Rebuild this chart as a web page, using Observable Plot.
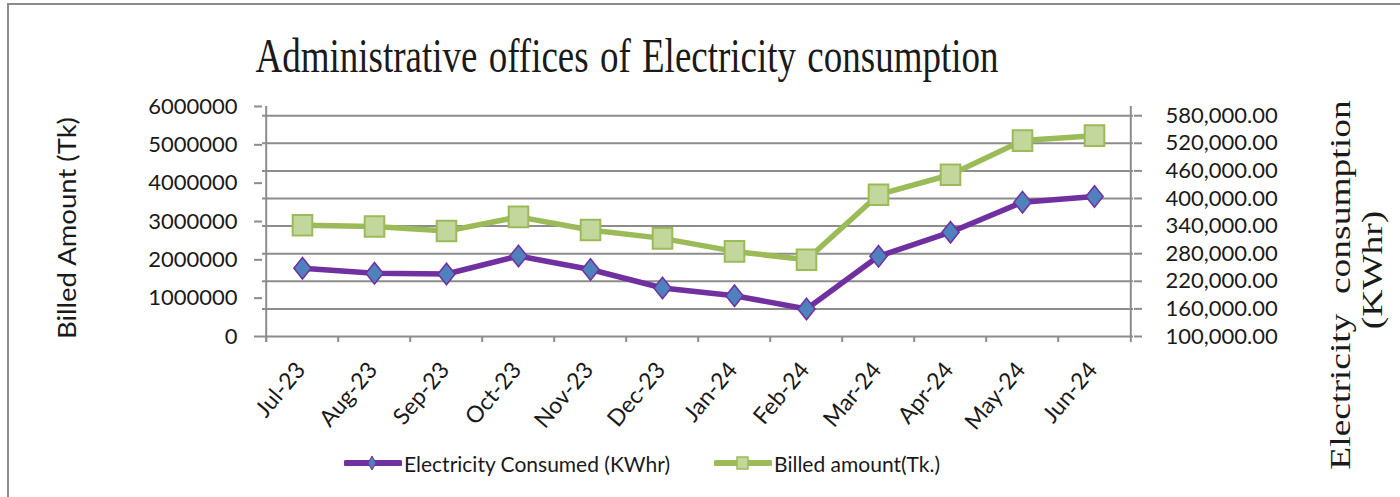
<!DOCTYPE html>
<html>
<head>
<meta charset="utf-8">
<script src="https://cdn.jsdelivr.net/npm/d3@7"></script>
<script src="https://cdn.jsdelivr.net/npm/@observablehq/plot@0.6"></script>
<style>
  html, body { margin: 0; padding: 0; background: #fff; }
  #wrap { position: relative; width: 1400px; height: 497px; overflow: hidden; background: #fff; }
  #frame { position: absolute; left: 7px; top: 3px; width: 1500px; height: 600px; border: 2px solid #8c8c8c; box-sizing: border-box; }
  #chart { position: absolute; left: 0; top: 0; }
  .t { position: absolute; white-space: pre; color: #1a1a1a; line-height: 1; }
  #title { font-family: "Liberation Serif", serif; font-size: 37px; word-spacing: 2px; left: 627px; top: 56px; transform: translate(-50%, -50%) scaleY(1.3); }
  #ylab { font-family: Lato, sans-serif; font-size: 25px; left: 66px; top: 228px; transform: translate(-50%, -50%) rotate(-90deg) scaleX(1.1); }
  #y2lab1 { font-family: "Liberation Serif", serif; font-size: 30px; word-spacing: 8px; left: 1340px; top: 285px; transform: translate(-50%, -50%) rotate(-90deg) scaleX(1.25); }
  #y2lab2 { font-family: "Liberation Serif", serif; font-size: 30px; left: 1372px; top: 270px; transform: translate(-50%, -50%) rotate(-90deg) scaleX(1.25); }
  #legend { position: absolute; left: 344px; top: 450px; height: 26px; display: flex; align-items: center; font-family: Lato, sans-serif; font-size: 21px; color: #1a1a1a; }
  #legend svg { display: block; }
  .lg-item { display: flex; align-items: center; }
</style>
</head>
<body>
<div id="wrap">
  <div id="frame"></div>
  <div id="chart"></div>
  <div class="t" id="title">Administrative offices of Electricity consumption</div>
  <div class="t" id="ylab">Billed Amount (Tk)</div>
  <div class="t" id="y2lab1">Electricity consumption</div>
  <div class="t" id="y2lab2">(KWhr)</div>
  <div id="legend">
    <div class="lg-item">
      <svg width="58" height="20"><line x1="2" y1="10" x2="56" y2="10" stroke="#7030A0" stroke-width="6" stroke-linecap="round"/><path d="M28,3 L32,10 L28,17 L24,10 Z" fill="#4F81BD" stroke="#7030A0" stroke-width="1"/></svg>
      <span style="margin-left:2px">Electricity Consumed (KWhr)</span>
    </div>
    <div class="lg-item" style="margin-left:44px">
      <svg width="58" height="20"><line x1="2" y1="10" x2="56" y2="10" stroke="#9BBB59" stroke-width="6" stroke-linecap="round"/><rect x="23" y="4" width="11" height="12" fill="#C3D69B" stroke="#9BBB59" stroke-width="1.5"/></svg>
      <span style="margin-left:2px">Billed amount(Tk.)</span>
    </div>
  </div>
</div>
<script>
// ---- data ----
const months = ["Jul-23", "Aug-23", "Sep-23", "Oct-23", "Nov-23", "Dec-23", "Jan-24", "Feb-24", "Mar-24", "Apr-24", "May-24", "Jun-24"];
const billedAmount = [2900000, 2870000, 2750000, 3120000, 2780000, 2560000, 2220000, 2000000, 3700000, 4220000, 5110000, 5240000];
const electricityConsumed = [248500, 237600, 235900, 275000, 245700, 205400, 188700, 159800, 274300, 326700, 392000, 404300];
const leftTicks = [0, 1000000, 2000000, 3000000, 4000000, 5000000, 6000000];
const rightTicks = [100000, 160000, 220000, 280000, 340000, 400000, 460000, 520000, 580000];
const leftDomain = [0, 6000000];
const rightDomain = [100000, 600000];

// secondary axis mapped onto the primary y scale
const toLeft = d3.scaleLinear(rightDomain, leftDomain);
const rows = months.map((m, i) => ({
  month: m,
  billed: billedAmount[i],
  kwh: electricityConsumed[i],
  kwhLeft: toLeft(electricityConsumed[i])
}));

const W = 1400, H = 497, ML = 262, MR = 267, MT = 106, MB = 161;
const bw = (W - ML - MR) / months.length;
const pxPerUnit = (H - MT - MB) / (leftDomain[1] - leftDomain[0]);
const below = 6 / pxPerUnit; // tick extension below the axis, in data units

const diamond = {
  draw(ctx, size) {
    const r = Math.sqrt(size / Math.PI);
    const w = r * 0.88, h = r * 1.1;
    ctx.moveTo(0, -h); ctx.lineTo(w, 0); ctx.lineTo(0, h); ctx.lineTo(-w, 0); ctx.closePath();
  }
};
const square = {
  draw(ctx, size) {
    const r = Math.sqrt(size / Math.PI);
    ctx.moveTo(-r, -r * 1.05); ctx.lineTo(r, -r * 1.05); ctx.lineTo(r, r * 1.05); ctx.lineTo(-r, r * 1.05); ctx.closePath();
  }
};

const grey = "#8c8c8c";
const chart = Plot.plot({
  width: W, height: H,
  marginLeft: ML, marginRight: MR, marginTop: MT, marginBottom: MB,
  style: { fontFamily: "Lato, sans-serif", fontSize: "22px", color: "#1a1a1a", background: "transparent", overflow: "visible" },
  x: { type: "band", domain: months, padding: 0, axis: null },
  y: { domain: leftDomain, axis: null },
  marks: [
    // horizontal gridlines (at secondary axis ticks)
    Plot.ruleY(rightTicks.map(toLeft), { stroke: grey, strokeWidth: 2 }),
    // category boundary tick marks
    Plot.ruleX(months, { x: d => d, dx: -bw / 2, y1: -below, y2: 0, stroke: grey, strokeWidth: 2 }),
    // left axis line
    Plot.ruleX([months[0]], { x: d => d, dx: -bw / 2, y1: -below, y2: leftDomain[1], stroke: grey, strokeWidth: 2 }),
    // right axis line
    Plot.ruleX([months[months.length - 1]], { x: d => d, dx: bw / 2, y1: -below, y2: leftDomain[1], stroke: grey, strokeWidth: 2 }),
    // left axis
    Plot.axisY({ anchor: "left", ticks: leftTicks, tickFormat: d => String(d), tickSize: 8, tickPadding: 17, stroke: grey, strokeWidth: 2, fill: "#1a1a1a", fontSize: 22, label: null }),
    // right axis
    Plot.axisY({ anchor: "right", ticks: rightTicks.map(toLeft), tickFormat: v => d3.format(",.2f")(Math.round(toLeft.invert(v))), tickSize: 8, tickPadding: 24, stroke: grey, strokeWidth: 2, fill: "#1a1a1a", fontSize: 22, label: null }),
    // x labels
    Plot.text(months, { x: d => d, text: d => d, frameAnchor: "bottom", rotate: -50, textAnchor: "end", dx: 4, dy: 34, fontSize: 23, fill: "#1a1a1a" }),
    // Billed amount (left axis)
    Plot.line(rows, { x: "month", y: "billed", stroke: "#9BBB59", strokeWidth: 5.5 }),
    Plot.dot(rows, { x: "month", y: "billed", symbol: square, r: 9.8, fill: "#C3D69B", stroke: "#9BBB59", strokeWidth: 2 }),
    // Electricity consumed (right axis)
    Plot.line(rows, { x: "month", y: "kwhLeft", stroke: "#7030A0", strokeWidth: 5.5 }),
    Plot.dot(rows, { x: "month", y: "kwhLeft", symbol: diamond, r: 9.8, fill: "#4F81BD", stroke: "#7030A0", strokeWidth: 1.5 })
  ]
});
document.getElementById("chart").appendChild(chart);
</script>
</body>
</html>
